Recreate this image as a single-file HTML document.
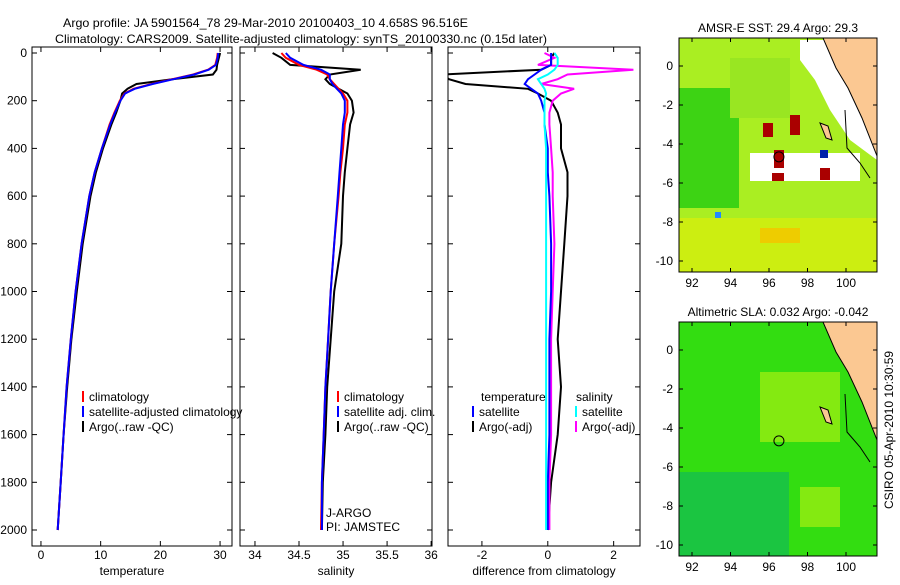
<!DOCTYPE html>
<html><head><meta charset="utf-8">
<style>
body{margin:0;background:#fff;width:900px;height:580px;overflow:hidden;font-family:"Liberation Sans",sans-serif;}
svg text{font-family:"Liberation Sans",sans-serif;font-size:12px;fill:#000;}
</style></head>
<body>
<svg id="fig" width="900" height="580" viewBox="0 0 900 580">
<text x="63" y="27" font-size="13.5" textLength="405" lengthAdjust="spacingAndGlyphs">Argo profile: JA 5901564_78 29-Mar-2010 20100403_10 4.658S 96.516E</text>
<text x="55" y="43" font-size="13.5" textLength="492" lengthAdjust="spacingAndGlyphs">Climatology: CARS2009. Satellite-adjusted climatology: synTS_20100330.nc (0.15d later)</text>
<g id="panels"></g>
<text transform="translate(893,430) rotate(-90)" text-anchor="middle">CSIRO 05-Apr-2010 10:30:59</text>
</svg>
<script>
// ---- data ----
const depthTicks=[0,200,400,600,800,1000,1200,1400,1600,1800,2000];
const tempTicks=[0,10,20,30];
const salTicks=[34,34.5,35,35.5,36];
const diffTicks=[-2,0,2];
const depths=[0,20,50,70,90,110,130,150,170,200,250,300,400,500,600,800,1000,1200,1400,1600,1800,2000];
const tempClim=[29.6,29.5,29.2,28,25.5,22,18.5,15.5,14,13.2,12.3,11.5,10.2,9,8.1,6.8,5.8,5,4.3,3.8,3.3,2.8];
const tempSat=[29.7,29.6,29.3,28.1,25.7,22.2,18.7,15.7,14.1,13.3,12.4,11.6,10.2,9,8.1,6.8,5.8,5,4.3,3.8,3.3,2.8];
const tempArgo=[30,29.8,29.5,29.4,28.8,22,16,14.5,13.6,13.3,12.6,11.8,10.4,9.2,8.3,7,6,5.1,4.4,3.8,3.3,2.8];
const salClim=[34.3,34.35,34.5,34.7,34.82,34.85,34.9,34.95,35.0,35.05,35.05,35.02,35.0,34.97,34.95,34.9,34.86,34.83,34.8,34.78,34.76,34.75];
const salSat=[34.35,34.4,34.55,34.75,34.85,34.85,34.88,34.93,34.98,35.02,35.02,35.0,34.98,34.96,34.94,34.9,34.86,34.83,34.8,34.78,34.76,34.76];
const salArgo=[34.2,34.3,34.4,35.2,34.85,34.8,34.85,34.95,35.05,35.1,35.12,35.08,35.05,35.02,35.0,34.98,34.9,34.86,34.82,34.8,34.77,34.76];
const dTempSat=[0.1,0.1,0.1,-0.2,-0.4,-0.6,-0.7,-0.5,-0.3,-0.2,-0.1,-0.1,0,0,0.05,0.1,0.1,0.05,0.05,0.05,0,0];
const dTempArgo=[0.2,0.1,0.1,-0.2,-3.2,-3.0,-2.5,-0.6,-0.3,0.1,0.3,0.4,0.4,0.6,0.6,0.5,0.4,0.3,0.4,0.3,0.1,0];
const dSalSat=[0.2,0.3,0.3,0.2,0,-0.3,-0.2,-0.1,-0.05,-0.1,-0.1,-0.1,-0.05,-0.05,-0.05,-0.05,-0.05,-0.05,-0.05,-0.05,-0.05,-0.05];
const dSalArgo=[-0.1,0.2,-0.3,2.6,0.6,0.3,-0.2,0.8,0.4,0.15,0.05,0.05,0.1,0.15,0.15,0.2,0.15,0.1,0.1,0.1,0.05,0.05];
const lonTicks=[92,94,96,98,100];
const latTicks1=[0,-2,-4,-6,-8,-10];
const latTicks2=[0,-2,-4,-6,-8,-10];
const argoLon=96.516, argoLat=-4.658;

const NS="http://www.w3.org/2000/svg";
const root=document.getElementById('panels');
function el(tag,attrs,parent){const e=document.createElementNS(NS,tag);for(const k in attrs)e.setAttribute(k,attrs[k]);(parent||root).appendChild(e);return e;}
function txt(x,y,s,anchor,parent,size){const t=el('text',{x:x,y:y,'text-anchor':anchor||'start'},parent);if(size)t.setAttribute('font-size',size);t.textContent=s;return t;}

const Y0=53,YS=0.2385;
const yD=d=>Y0+d*YS;
function panel(name,x0,x1,vmin,vmax,ticks,xlabel,series,legend){
  const g=el('g',{});
  
  
  const xs=v=>x0+(v-vmin)/(vmax-vmin)*(x1-x0);
  const cp='cp-'+name;
  const c=el('clipPath',{id:cp},g);el('rect',{x:x0,y:47,width:x1-x0,height:499},c);
  series.forEach(s=>{
    const p=el('polyline',{points:s.vals.map((v,i)=>xs(v).toFixed(1)+','+yD(depths[i]).toFixed(1)).join(' '),fill:'none',stroke:s.color,'stroke-width':2,'clip-path':'url(#'+cp+')'},g);
    
    
  });
  const fr=el('rect',{x:x0,y:47,width:x1-x0,height:499,fill:'none',stroke:'#000'},g);
  
  
  ticks.forEach(t=>{const x=xs(t);el('line',{x1:x,x2:x,y1:546,y2:541,stroke:'#000'},g);el('line',{x1:x,x2:x,y1:47,y2:52,stroke:'#000'},g);
    const l=txt(x,559,String(t),'middle',g);});
  depthTicks.forEach(d=>{const y=yD(d);el('line',{x1:x0,x2:x0+5,y1:y,y2:y,stroke:'#000'},g);el('line',{x1:x1,x2:x1-5,y1:y,y2:y,stroke:'#000'},g);});
  const xl=txt((x0+x1)/2,575,xlabel,'middle',g);
  legend.forEach(L=>{const lg=el('g',{},g);
    if(L.color)el('line',{x1:L.x,x2:L.x,y1:L.y-10,y2:L.y+1,stroke:L.color,'stroke-width':2},lg);
    txt(L.x+6,L.y,L.t,'start',lg);});
  return g;
}
depthTicks.forEach(d=>{const t=txt(27,yD(d)+4,String(d),'end');});

panel('temperature-panel',32,232,-1.5,32,tempTicks,'temperature',[
 {vals:tempArgo,color:'#000',name:'temp-argo-line'},{vals:tempClim,color:'#f00',name:'temp-clim-line'},{vals:tempSat,color:'#00f',name:'temp-sat-line'}],
 [{x:83,y:401,t:'climatology',color:'#f00'},{x:83,y:416,t:'satellite-adjusted climatology',color:'#00f'},{x:83,y:431,t:'Argo(..raw -QC)',color:'#000'}]);
panel('salinity-panel',240,432,33.83,36.01,salTicks,'salinity',[
 {vals:salArgo,color:'#000',name:'sal-argo-line'},{vals:salClim,color:'#f00',name:'sal-clim-line'},{vals:salSat,color:'#00f',name:'sal-sat-line'}],
 [{x:338,y:401,t:'climatology',color:'#f00'},{x:338,y:416,t:'satellite adj. clim.',color:'#00f'},{x:338,y:431,t:'Argo(..raw -QC)',color:'#000'},
  {x:320,y:517,t:'J-ARGO'},{x:320,y:531,t:'PI: JAMSTEC'}]);
panel('difference-panel',448,640,-3.03,2.8,diffTicks,'difference from climatology',[
 {vals:dTempArgo,color:'#000',name:'dtemp-argo-line'},{vals:dSalArgo,color:'#f0f',name:'dsal-argo-line'},{vals:dTempSat,color:'#00f',name:'dtemp-sat-line'},{vals:dSalSat,color:'#0ff',name:'dsal-sat-line'}],
 [{x:475,y:401,t:'temperature'},{x:473,y:416,t:'satellite',color:'#00f'},{x:473,y:431,t:'Argo(-adj)',color:'#000'},
  {x:570,y:401,t:'salinity'},{x:576,y:416,t:'satellite',color:'#0ff'},{x:576,y:431,t:'Argo(-adj)',color:'#f0f'}]);

// ---- maps ----
function map(name,top,title,kind){
  const X0=679,X1=877,Y1=top+234;
  const lon=v=>692+(v-92)*19.25, lat=v=>top+28+(0-v)*19.5;
  const g=el('g',{});
  
  
  const cid='clip-'+name;const c=el('clipPath',{id:cid},g);el('rect',{x:X0,y:top,width:X1-X0,height:234},c);
  const inner=el('g',{'clip-path':'url(#'+cid+')'},g);
  el('rect',{x:X0,y:top,width:X1-X0,height:234,fill:kind==='sst'?'#aaee22':'#33dd11'},inner);
  if(kind==='sst'){
    el('rect',{x:679,y:top+50,width:60,height:120,fill:'#22cc11',opacity:0.8},inner);
    el('rect',{x:730,y:top+20,width:60,height:60,fill:'#99e622'},inner);
    el('rect',{x:679,y:top+180,width:198,height:54,fill:'#ccee11'},inner);
    el('rect',{x:760,y:top+190,width:40,height:15,fill:'#eecc00'},inner);
    el('rect',{x:750,y:top+115,width:110,height:28,fill:'#fff'},inner);
    [[763,123,10,14],[790,115,10,20],[774,150,10,18],[772,173,12,8],[820,168,10,12]].forEach(r=>el('rect',{x:r[0],y:r[1],width:r[2],height:r[3],fill:'#aa0000'},inner));
    el('rect',{x:820,y:150,width:8,height:8,fill:'#0022aa'},inner);
    el('rect',{x:715,y:212,width:6,height:6,fill:'#2288ff'},inner);
    el('polygon',{points:'800,40 877,40 877,160 850,140 830,110 815,80 800,60',fill:'#fff'},inner);
  } else {
    el('rect',{x:679,y:top+150,width:110,height:84,fill:'#11bb55',opacity:0.7},inner);
    el('rect',{x:760,y:top+50,width:80,height:70,fill:'#99ee11',opacity:0.8},inner);
    el('rect',{x:800,y:top+165,width:40,height:40,fill:'#99ee11',opacity:0.8},inner);
  }
  el('polygon',{points:'823,'+top+' 877,'+top+' 877,'+(top+118)+' 862,'+(top+80)+' 848,'+(top+50)+' 836,'+(top+30),fill:'#fbc892',stroke:'#000'},inner);
  el('polygon',{points:'820,'+(top+85)+' 828,'+(top+88)+' 832,'+(top+102)+' 826,'+(top+100),fill:'#fbc892',stroke:'#000'},inner);
  el('polyline',{points:'845,'+(top+72)+' 847,'+(top+110)+' 860,'+(top+125)+' 870,'+(top+140),fill:'none',stroke:'#000'},inner);
  const dot=el('circle',{cx:lon(argoLon),cy:lat(argoLat),r:5,fill:'none',stroke:'#000'},g);
  
  
  el('rect',{x:X0,y:top,width:X1-X0,height:234,fill:'none',stroke:'#000'},g);
  lonTicks.forEach(v=>{const x=lon(v);el('line',{x1:x,x2:x,y1:Y1,y2:Y1-4,stroke:'#000'},g);el('line',{x1:x,x2:x,y1:top,y2:top+4,stroke:'#000'},g);
    const t=txt(x,Y1+15,String(v),'middle',g);});
  (kind==='sst'?latTicks1:latTicks2).forEach(v=>{const y=lat(v);el('line',{x1:X0,x2:X0+4,y1:y,y2:y,stroke:'#000'},g);el('line',{x1:X1,x2:X1-4,y1:y,y2:y,stroke:'#000'},g);
    const t=txt(673,y+4,String(v),'end',g);});
  const tt=txt(778,top-6,title,'middle',g);
}
map('sst-map',38,'AMSR-E SST: 29.4 Argo: 29.3','sst');
map('sla-map',322,'Altimetric SLA: 0.032 Argo: -0.042','sla');
</script>
</body></html>
